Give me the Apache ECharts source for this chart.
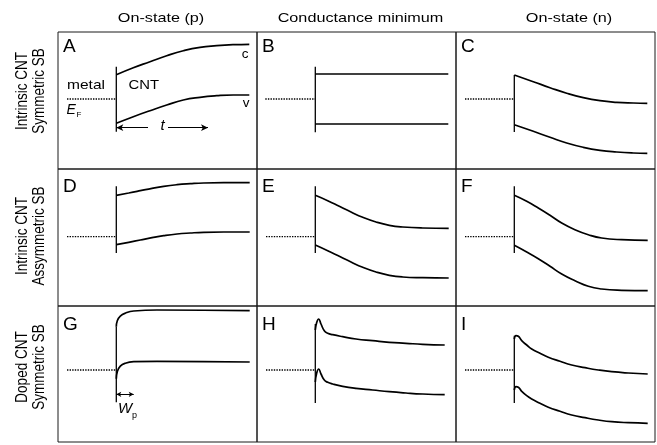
<!DOCTYPE html>
<html>
<head>
<meta charset="utf-8">
<script src="https://cdn.jsdelivr.net/npm/echarts@6/dist/echarts.min.js"></script>
<style>
html,body{margin:0;padding:0;background:#fff;}
#chart{width:657px;height:445px;}
</style>
</head>
<body>
<div id="chart"></div>
<script>
// ---- text ----
const colTitles = ['On-state (p)', 'Conductance minimum', 'On-state (n)'];
const rowTitles = [['Intrinsic CNT', 'Symmetric SB'], ['Intrinsic CNT', 'Assymmetric SB'], ['Doped CNT', 'Symmetric SB']];
const panelLetters = ['A', 'B', 'C', 'D', 'E', 'F', 'G', 'H', 'I'];

// ---- band edges: distance from the metal/CNT interface, energy relative to E_F ----
const distA = [0, 17, 33.7, 50.4, 67, 83.7, 100.4, 117, 133];
const condA = [24.3, 31.3, 37.3, 43.3, 48.3, 51.7, 53.3, 54.3, 54.7];
const valA  = [-24.3, -17.7, -11.7, -6, -1, 1.7, 3.3, 4, 4];

const distB = [0, 133];
const condB = [25, 25];
const valB  = [-25, -25];

const distC = [0, 19, 35.7, 52.4, 69, 85.7, 102.4, 119, 133];
const condC = [24, 17.3, 11.3, 5.7, 1.3, -1.7, -3.3, -4, -4.3];
const valC  = [-25.7, -32.3, -38.3, -44, -48.3, -51.3, -53, -54, -54.3];

const distD = [0, 12.4, 24, 35.7, 47.4, 60.7, 74, 87.4, 107.4, 133.4];
const condD = [41.4, 43.7, 46, 48.4, 50.4, 52, 53, 53.7, 54, 54];
const valD  = [-8, -5.6, -3.3, -1, 1, 2.7, 3.7, 4.4, 4.7, 4.7];

const distE = [0, 12.4, 24, 35.7, 47.4, 60.7, 74, 87.4, 107.4, 133.4];
const condE = [41.4, 36, 30.4, 24.7, 19.4, 14.7, 11.4, 9.7, 8.7, 8.4];
const valE  = [-8.3, -14, -19.6, -25.3, -30.6, -35.3, -38.6, -40.3, -41, -41.3];

const distF = [0, 12.4, 24, 35.7, 47.4, 60.7, 74, 87.4, 107.4, 133.4];
const condF = [41.4, 35.4, 28.7, 21.4, 13.7, 7, 2, -1.3, -3, -3.6];
const valF  = [-8.6, -15.3, -22, -29.6, -37.3, -44, -49.6, -52.3, -53.6, -54];

const distG = [0, 1, 4, 9, 17.4, 40.7, 133.4];
const condG = [43.3, 49.3, 53.8, 56.8, 59, 60, 59.3];
const valG  = [-8.7, -1.7, 3.8, 6.8, 8.3, 8.7, 8];

const distH = [0, 1.4, 3.4, 5.7, 9, 12.4, 17.4, 27.4, 40.7, 57.4, 74, 90.7, 107.4, 129.4];
const condH = [40, 47.5, 51, 46, 39.3, 36.7, 35.3, 33.3, 31, 29.3, 27.7, 26.7, 25.7, 25];
const valH  = [-12, -3, 1, -4, -10, -12.3, -14, -16.3, -18.3, -20, -21.7, -23, -24, -24.7];

const distI = [0, 1.7, 4, 7.4, 12.4, 17.4, 25.7, 34, 45.7, 57.4, 70.7, 84, 97.4, 114, 133.4];
const condI = [31, 34.3, 33.7, 29.3, 25, 21, 16.7, 12.7, 8.7, 5, 2.3, 0, -1.7, -3, -4];
const valI  = [-20, -16.7, -17.3, -21.3, -25.7, -29, -33.3, -37.3, -41.3, -45, -47.7, -50, -51.7, -52.7, -53.3];

// interface (metal/CNT contact) line, top and bottom energy per panel
const interfaceTop    = [32.3, 32.3, 24, 50.4, 50.4, 50.4, 43.3, 46, 34.3];
const interfaceBottom = [-32.7, -33.3, -33, -16.3, -16.3, -16.3, -32.3, -33, -33];
// metal Fermi level (dotted), start distance
const fermiStart = [-49.3, -50, -49.3, -49.3, -49.3, -49.3, -49.3, -49.3, -49.3];

// annotation arrows (data coords)
const tArrowY = -28.7;
const tArrowLeft = [31.7, 0];
const tArrowRight = [51.7, 91.7];
const wpArrowY = -24.3;
const wpArrow = [0, 17.4];

const panels = [
  [distA, condA, valA], [distB, condB, valB], [distC, condC, valC],
  [distD, condD, valD], [distE, condE, valE], [distF, condF, valF],
  [distG, condG, valG], [distH, condH, valH], [distI, condI, valI]
];

// ---- layout ----
const colLeft = [58, 257, 456];
const colWidth = 199;
const rowTop = [32, 169, 306];
const rowHeight = [137, 137, 136];
const xMin = -58.3, xMax = 140.7;
const yMax = [67, 67.7, 64];
const yMin = [-70, -69.3, -72];

const FONT = '"Liberation Sans", Arial, Helvetica, sans-serif';
const zip = (xs, ys) => xs.map((x, i) => [x, ys[i]]);

const grid = [], xAxis = [], yAxis = [], series = [];
for (let r = 0; r < 3; r++) {
  for (let c = 0; c < 3; c++) {
    const i = r * 3 + c;
    grid.push({
      left: colLeft[c], top: rowTop[r], width: colWidth, height: rowHeight[r],
      show: true, borderColor: '#1a1a1a', borderWidth: 1, backgroundColor: 'transparent'
    });
    xAxis.push({ type: 'value', gridIndex: i, min: xMin, max: xMax, show: false });
    yAxis.push({ type: 'value', gridIndex: i, min: yMin[r], max: yMax[r], show: false });
    const [d, cb, vb] = panels[i];
    const curve = {
      type: 'line', xAxisIndex: i, yAxisIndex: i, showSymbol: false, silent: true,
      smooth: d.length > 2 ? 0.5 : false,
      lineStyle: { color: '#000', width: 1.7 }
    };
    series.push(Object.assign({}, curve, { name: panelLetters[i] + '-c', data: zip(d, cb) }));
    series.push(Object.assign({}, curve, { name: panelLetters[i] + '-v', data: zip(d, vb) }));
    const iface = {
      type: 'line', xAxisIndex: i, yAxisIndex: i, showSymbol: false, silent: true,
      name: panelLetters[i] + '-if',
      data: [[0, interfaceTop[i]], [0, interfaceBottom[i]]],
      lineStyle: { color: '#000', width: 1.3 }
    };
    if (i === 0) {
      iface.markLine = {
        silent: true, symbol: ['none', 'arrow'], symbolSize: [5, 7],
        label: { show: false }, lineStyle: { color: '#000', width: 1, type: 'solid' },
        data: [
          [{ coord: [tArrowLeft[0], tArrowY] }, { coord: [tArrowLeft[1], tArrowY] }],
          [{ coord: [tArrowRight[0], tArrowY] }, { coord: [tArrowRight[1], tArrowY] }]
        ]
      };
    }
    if (i === 6) {
      iface.markLine = {
        silent: true, symbol: ['arrow', 'arrow'], symbolSize: [4, 5],
        label: { show: false }, lineStyle: { color: '#000', width: 1, type: 'solid' },
        data: [[{ coord: [wpArrow[0], wpArrowY] }, { coord: [wpArrow[1], wpArrowY] }]]
      };
    }
    series.push(iface);
    series.push({
      type: 'line', xAxisIndex: i, yAxisIndex: i, showSymbol: false, silent: true,
      name: panelLetters[i] + '-EF',
      data: [[fermiStart[i], 0], [0, 0]],
      lineStyle: { color: '#000', width: 1.3, type: [1.4, 1.2] }
    });
  }
}

// ---- text annotations (y = vertical middle of capitals) ----
function txt(text, x, y, opt) {
  opt = opt || {};
  return {
    type: 'text', x: x, y: y, rotation: opt.rotation || 0,
    scaleX: opt.sx || 1, scaleY: opt.sy || 1, silent: true,
    style: {
      text: text, fill: '#000',
      font: (opt.style || 'normal') + ' ' + (opt.size || 13) + 'px ' + FONT,
      textAlign: opt.align || 'left', align: opt.align || 'left',
      textVerticalAlign: 'middle', verticalAlign: 'middle'
    }
  };
}
const graphic = [];
const headerX = [161, 360.5, 569];
colTitles.forEach((t, c) => graphic.push(txt(t, headerX[c], 18, { align: 'center', sx: 1.2, size: 13.5 })));
const rowLabelY = [91, 236, 367];
const rowLabelX = [22.5, 39.5];
rowTitles.forEach((pair, r) => pair.forEach((t, k) =>
  graphic.push(txt(t, rowLabelX[k], rowLabelY[r], { align: 'center', rotation: Math.PI / 2, sy: 1.2, size: 13.5 }))));
const letterMid = [47, 187, 325];
panelLetters.forEach((L, i) => {
  const r = Math.floor(i / 3), c = i % 3;
  graphic.push(txt(L, colLeft[c] + 5, letterMid[r], { size: 19 }));
});
graphic.push(txt('metal', 67, 85.5, { sx: 1.15, size: 13.5 }));
graphic.push(txt('CNT', 128.5, 85.5, { sx: 1.1, size: 13.5 }));
graphic.push(txt('c', 248.5, 54, { align: 'right', size: 13.5 }));
graphic.push(txt('v', 249.5, 103, { align: 'right', size: 13.5 }));
graphic.push(txt('E', 66.5, 110.5, { style: 'italic', size: 14 }));
graphic.push(txt('F', 76.5, 114.5, { size: 8 }));
graphic.push(txt('t', 162.5, 125.5, { style: 'italic', size: 15, align: 'center' }));
graphic.push(txt('W', 118, 408.5, { style: 'italic', size: 15 }));
graphic.push(txt('p', 132, 416, { size: 9 }));

const chart = echarts.init(document.getElementById('chart'), null, { renderer: 'canvas' });
chart.setOption({
  animation: false,
  backgroundColor: '#fff',
  grid: grid, xAxis: xAxis, yAxis: yAxis, series: series,
  graphic: graphic
});
</script>
</body>
</html>
